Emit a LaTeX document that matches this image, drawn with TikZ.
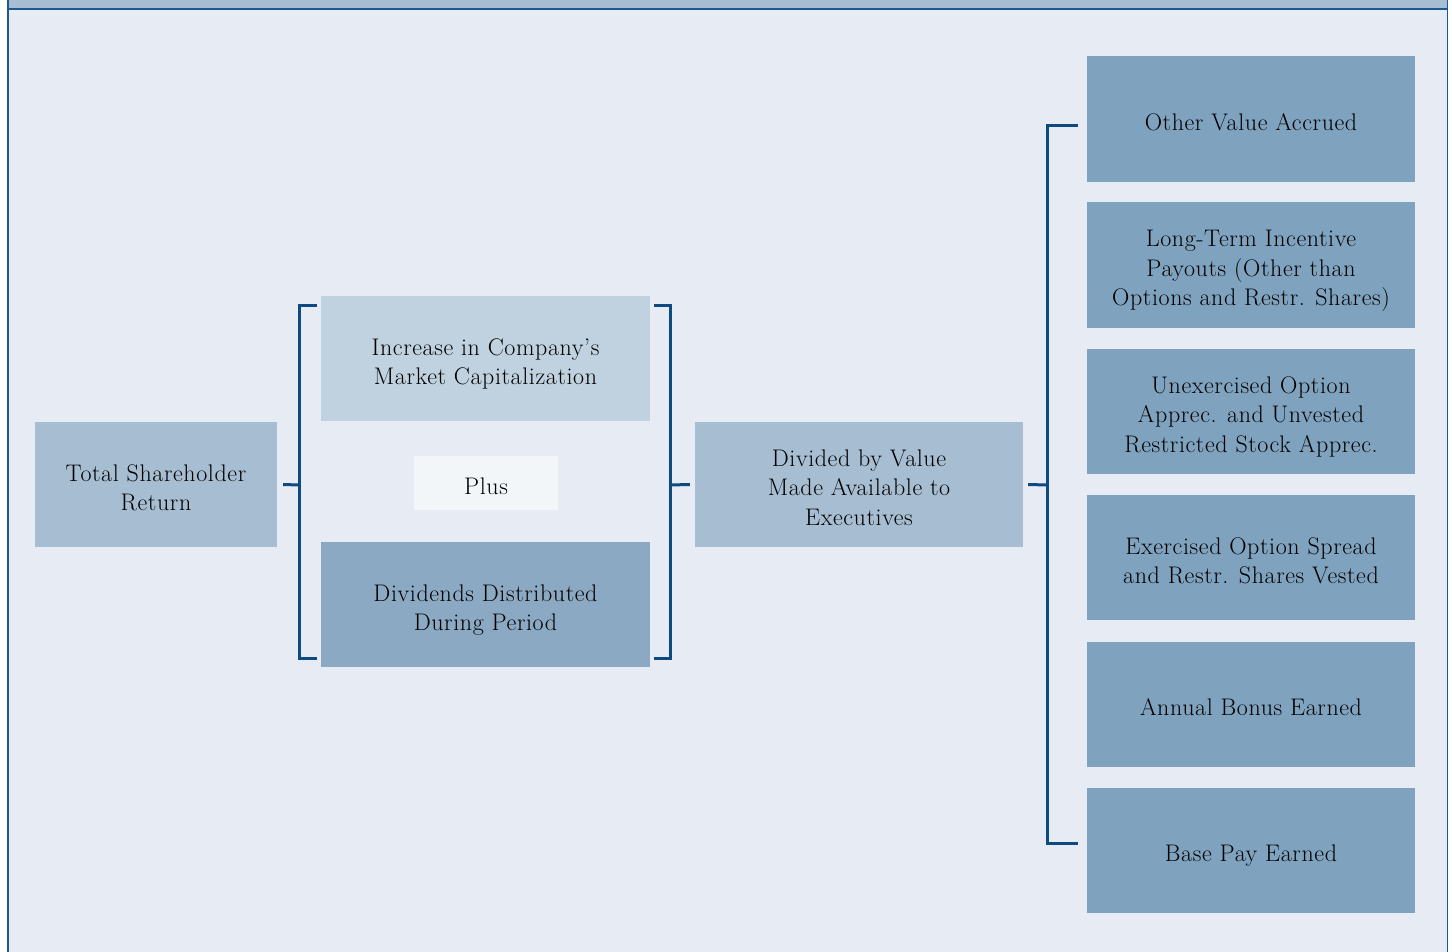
\documentclass[tikz,border=0pt]{standalone}
\usepackage{fontspec}
\setmainfont{Latin Modern Roman}[LetterSpace=2.5]
\definecolor{bg}{HTML}{E7ECF4}
\definecolor{band}{HTML}{A7BDD2}
\definecolor{edge}{HTML}{1A5A8E}
\definecolor{brk}{HTML}{0E4A80}
\definecolor{cmid}{HTML}{A7BDD2}
\definecolor{clight}{HTML}{C0D2DF}
\definecolor{cplus}{HTML}{F3F6F9}
\definecolor{cdiv}{HTML}{8BA9C3}
\definecolor{cright}{HTML}{7FA2BE}
\begin{document}
\begin{tikzpicture}[x=1pt,y=-1pt,
  box/.style={draw=none,inner sep=0pt,align=center,font=\fontsize{24}{29.5}\selectfont,text=black,
    text depth=0pt},
  bracket/.style={draw=brk,line width=3pt}]
\useasboundingbox (0,0) rectangle (1452,952);
\fill[white] (0,0) rectangle (1452,952);
\fill[bg] (7.5,9) rectangle (1447.5,952);
\fill[band] (7.5,0) rectangle (1447.5,9);
\draw[edge,line width=1.5pt] (7.5,9) -- (1447.5,9);
\draw[edge,line width=2pt] (7.5,0) -- (7.5,952);
\draw[edge,line width=1.5pt] (1447.5,0) -- (1447.5,952);
% boxes
\tikzset{lbl/.style={box,inner sep=0pt,fill=none}}
\newcommand{\mybox}[6]{%
  \node[box,fill=#2,minimum width=#3pt,minimum height=#4pt,inner sep=0pt] (#1) at #5 {};
  \node[lbl] (#1-t) at ([yshift=-3pt]#1.center) {#6};}
\mybox{tsr}{cmid}{242}{125}{(156,484.5)}{Total Shareholder\\Return}
\mybox{inc}{clight}{329}{125}{(485.5,358.5)}{Increase in Company’s\\Market Capitalization}
\mybox{plus}{cplus}{144}{54}{(486,483)}{Plus}
\mybox{divd}{cdiv}{329}{125}{(485.5,604.5)}{Dividends Distributed\\During Period}
\mybox{dv}{cmid}{328}{125}{(859,484.5)}{Divided by Value\\Made Available to\\Executives}
\mybox{r1}{cright}{328}{126}{(1251,119)}{Other Value Accrued}
\mybox{r2}{cright}{328}{126}{(1251,265)}{Long-Term Incentive\\Payouts (Other than\\Options and Restr. Shares)}
\mybox{r3}{cright}{328}{125}{(1251,411.5)}{Unexercised Option\\Apprec. and Unvested\\Restricted Stock Apprec.}
\mybox{r4}{cright}{328}{125}{(1251,557.5)}{Exercised Option Spread\\and Restr. Shares Vested}
\mybox{r5}{cright}{328}{125}{(1251,704.5)}{Annual Bonus Earned}
\mybox{r6}{cright}{328}{125}{(1251,850.5)}{Base Pay Earned}
% brackets
\coordinate (lb) at (299,485);
\draw[bracket] ([xshift=6pt]tsr.east) -- (lb);
\draw[bracket] (317,306) -- (299,306) -- (299,658) -- (317,658);
\draw[bracket] (654,306) -- (670,306) -- (670,658) -- (654,658);
\coordinate (rb) at (670,485);
\draw[bracket] (rb) -- ([xshift=-5pt]dv.west);
\draw[bracket] (1078,126) -- (1047,126) -- (1047,843) -- (1078,843);
\coordinate (bb) at (1047,485);
\draw[bracket] ([xshift=5pt]dv.east) -- (bb);
\end{tikzpicture}
\end{document}
